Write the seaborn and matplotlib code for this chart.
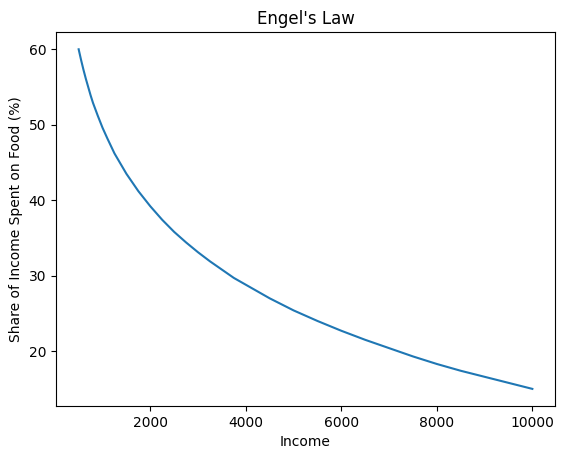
import matplotlib
matplotlib.use("Agg")

import matplotlib.pyplot as plt
import seaborn as sns


# =====================================
# DATA
# =====================================

income = [
    500, 550, 600, 650, 700, 750, 800, 900, 1000, 1100, 1250, 1500,
    1750, 2000, 2250, 2500, 2750, 3000, 3250, 3500, 3750, 4000, 4500,
    5000, 5500, 6000, 6500, 7000, 7500, 8000, 8500, 9000, 9500, 10000
]

food_share = [
    60.0, 58.6, 57.3, 56.1, 55.0, 53.9, 52.9, 51.2, 49.6, 48.2, 46.2,
    43.5, 41.2, 39.2, 37.4, 35.8, 34.4, 33.1, 31.9, 30.8, 29.7, 28.8,
    27.0, 25.4, 24.0, 22.7, 21.5, 20.4, 19.3, 18.3, 17.4, 16.6, 15.8,
    15.0
]


# =====================================
# PLOT
# =====================================

fig = plt.figure(figsize=(5.62, 4.55), dpi=100)

ax = fig.add_axes([0.0996, 0.108, 0.888, 0.821])

sns.lineplot(
    x=income,
    y=food_share,
    ax=ax,
    color="#1f77b4"
)

ax.set_title("Engel's Law")

ax.set_xlabel("Income")

ax.set_ylabel("Share of Income Spent on Food (%)")

ax.set_xticks([2000, 4000, 6000, 8000, 10000])

ax.set_yticks([20, 30, 40, 50, 60])

plt.savefig("out.png", dpi=100)

plt.close()
